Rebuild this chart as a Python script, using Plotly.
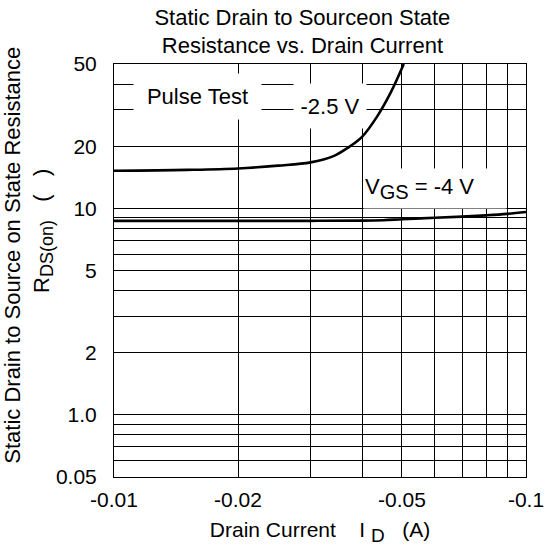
import plotly.graph_objects as go

# Drain current (A) and on-state resistance (ohm)
current_25v = [-0.01, -0.015, -0.02, -0.025, -0.03, -0.0341, -0.0368, -0.04, -0.0435, -0.0469, -0.0505]
rds_25v = [15.2, 15.35, 15.6, 16.1, 16.7, 17.9, 19.55, 22.2, 27.8, 36.2, 50.0]

current_4v = [-0.01, -0.02, -0.03, -0.04, -0.045, -0.05, -0.06, -0.07, -0.08, -0.09, -0.1]
rds_4v = [8.7, 8.7, 8.7, 8.72, 8.76, 8.85, 9.0, 9.12, 9.25, 9.4, 9.6]

x_tick_vals = [0.01, 0.02, 0.05, 0.1]
x_tick_text = ["-0.01", "-0.02", "-0.05", "-0.1"]
x_minor_vals = [0.03, 0.04, 0.06, 0.07, 0.08, 0.09]

y_tick_vals = [0.5, 1, 2, 5, 10, 20, 50]
y_tick_text = ["0.05", "1.0", "2", "5", "10", "20", "50"]
y_minor_vals = [0.6, 0.7, 0.8, 0.9, 3, 4, 6, 7, 8, 9, 30, 40]

FONT = "Liberation Sans, Arial, Helvetica, sans-serif"
FS = 21
AFS = 22
NB = "\u00a0"
ZW = "\u200b"


def sub(txt, px):
    return "<sub><span style='font-size:%dpx'>%s</span></sub>" % (px, txt)


fig = go.Figure()
for cur, rds in [(current_25v, rds_25v), (current_4v, rds_4v)]:
    fig.add_trace(go.Scatter(
        x=[abs(c) for c in cur], y=rds, mode="lines",
        line=dict(color="black", width=2.6, shape="spline", smoothing=1.0),
        showlegend=False, hoverinfo="skip"))

grid = dict(showgrid=True, gridcolor="black", gridwidth=1)

fig.update_xaxes(
    type="log", range=[-2, -1],
    tickmode="array", tickvals=x_tick_vals, ticktext=x_tick_text,
    ticks="", showline=True, linecolor="black", linewidth=1, mirror=True,
    zeroline=False, tickfont=dict(size=FS, color="black"),
    minor=dict(tickmode="array", tickvals=x_minor_vals, ticks="", **grid),
    title=dict(text="Drain Current" + NB * 4 + "I" + NB + sub("D", 19) + NB * 3 + "(A)",
               font=dict(size=FS, color="black"), standoff=12),
    ticklabelstandoff=4,
    **grid)

fig.update_yaxes(
    type="log", range=[-0.30103, 1.69897],
    tickmode="array", tickvals=y_tick_vals, ticktext=y_tick_text,
    ticks="", showline=True, linecolor="black", linewidth=1, mirror=True,
    zeroline=False, tickfont=dict(size=FS, color="black"),
    minor=dict(tickmode="array", tickvals=y_minor_vals, ticks="", **grid),
    title=dict(text=ZW + NB * 5 + "Static Drain to Source on State Resistance<br>"
               + NB * 13 + "R" + sub("DS(on)", 18) + NB * 3 + "(" + NB * 3 + ")",
               font=dict(size=22, color="black"), standoff=0),
    ticklabelstandoff=12,
    **grid)

# labels with white boxes that hide the grid behind them
labels = [("Pulse Test", 0.2034, 0.922, 125, 43, "center"),
          ("-2.5 V", 0.525, 0.899, 70, 42, "center"),
          ("V" + sub("GS", 20) + " = -4 V", 0.780, 0.699, 140, 37, "left")]
for txt, lx, ly, w, h, al in labels:
    fig.add_annotation(xref="paper", yref="paper", x=lx, y=ly,
                       xanchor="center", yanchor="middle",
                       width=w, height=h, align=al, valign="middle",
                       borderpad=1, bgcolor="white",
                       text=txt, showarrow=False,
                       font=dict(size=AFS, color="black"))

fig.update_layout(
    width=560, height=552,
    margin=dict(l=114, r=34, t=64, b=75, autoexpand=False),
    paper_bgcolor="white", plot_bgcolor="white",
    font=dict(family=FONT, size=FS, color="black"),
    title=dict(text="Static Drain to Sourceon State<br>Resistance vs. Drain Current",
               x=0.54, xanchor="center", y=0.955, yanchor="top",
               font=dict(size=22, color="black")),
)

fig.write_html("out.html")
